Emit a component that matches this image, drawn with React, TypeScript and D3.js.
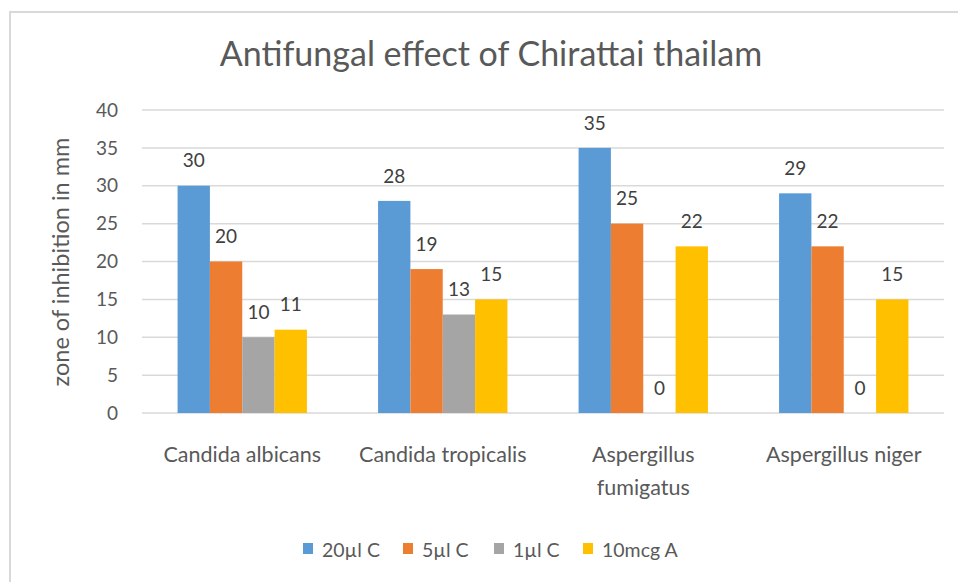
import * as d3 from "d3";

const categories = ["Candida albicans", "Candida tropicalis", "Aspergillus fumigatus", "Aspergillus niger"];
const seriesNames = ["20µl C", "5µl C", "1µl C", "10mcg A"];
const seriesColors = ["#5B9BD5", "#ED7D31", "#A5A5A5", "#FFC000"];
// values[series][category]
const values = [
  [30, 28, 35, 29],
  [20, 19, 25, 22],
  [10, 13, 0, 0],
  [11, 15, 22, 15],
];
const yTicks = [0, 5, 10, 15, 20, 25, 30, 35, 40];

const W = 958;
const H = 582;
const FONT = "Lato, 'Open Sans', sans-serif";
const TEXT = "#595959";

function wrap(label: string) {
  if (label.length < 20) return [label];
  const i = label.lastIndexOf(" ");
  return [label.slice(0, i), label.slice(i + 1)];
}

export default function App() {
  const x0 = d3.scaleBand().domain(categories).range([142, 944]).padding(0);
  const x1 = d3
    .scaleBand()
    .domain(seriesNames)
    .range([0, x0.bandwidth()])
    .paddingInner(0)
    .paddingOuter(1.1);
  const y = d3.scaleLinear().domain([0, 40]).range([413, 110]);

  const legendX = [303, 403, 494, 583];

  return (
    <div style={{ position: "fixed", left: 0, top: 0 }}>
      <svg width={W} height={H} style={{ display: "block", background: "#fff" }} fontFamily={FONT}>
        <rect x={10} y={12} width={970} height={600} fill="#fff" stroke="#D9D9D9" strokeWidth={2} />

        <text x={491} y={66} textAnchor="middle" fontSize={34} fill={TEXT}>
          Antifungal effect of Chirattai thailam
        </text>

        {yTicks.map((t) => (
          <g key={t}>
            <line x1={142} x2={944} y1={y(t)} y2={y(t)} stroke="#D9D9D9" strokeWidth={1.5} />
            <text x={118} y={y(t)} dy="0.35em" textAnchor="end" fontSize={19} fill={TEXT}>
              {t}
            </text>
          </g>
        ))}

        <text
          transform={`translate(69,262) rotate(-90)`}
          textAnchor="middle"
          fontSize={23.5}
          fill={TEXT}
        >
          zone of inhibition in mm
        </text>

        {categories.map((c, ci) => (
          <g key={c} transform={`translate(${x0(c)},0)`}>
            {seriesNames.map((s, si) => {
              const v = values[si][ci];
              const bx = x1(s)!;
              return (
                <g key={s}>
                  <rect
                    x={bx}
                    y={y(v)}
                    width={x1.bandwidth()}
                    height={y(0) - y(v)}
                    fill={seriesColors[si]}
                  />
                  <text
                    x={bx + x1.bandwidth() / 2}
                    y={y(v) - 25}
                    dy="0.35em"
                    textAnchor="middle"
                    fontSize={19}
                    fill="#404040"
                  >
                    {v}
                  </text>
                </g>
              );
            })}
            {wrap(c).map((line, li) => (
              <text
                key={li}
                x={x0.bandwidth() / 2}
                y={462 + li * 33}
                textAnchor="middle"
                fontSize={21.5}
                fill={TEXT}
              >
                {line}
              </text>
            ))}
          </g>
        ))}

        {seriesNames.map((s, si) => (
          <g key={s} transform={`translate(${legendX[si]},543)`}>
            <rect width={10} height={11} fill={seriesColors[si]} />
            <text x={19} y={14} fontSize={19.5} fill={TEXT}>
              {s}
            </text>
          </g>
        ))}
      </svg>
    </div>
  );
}
